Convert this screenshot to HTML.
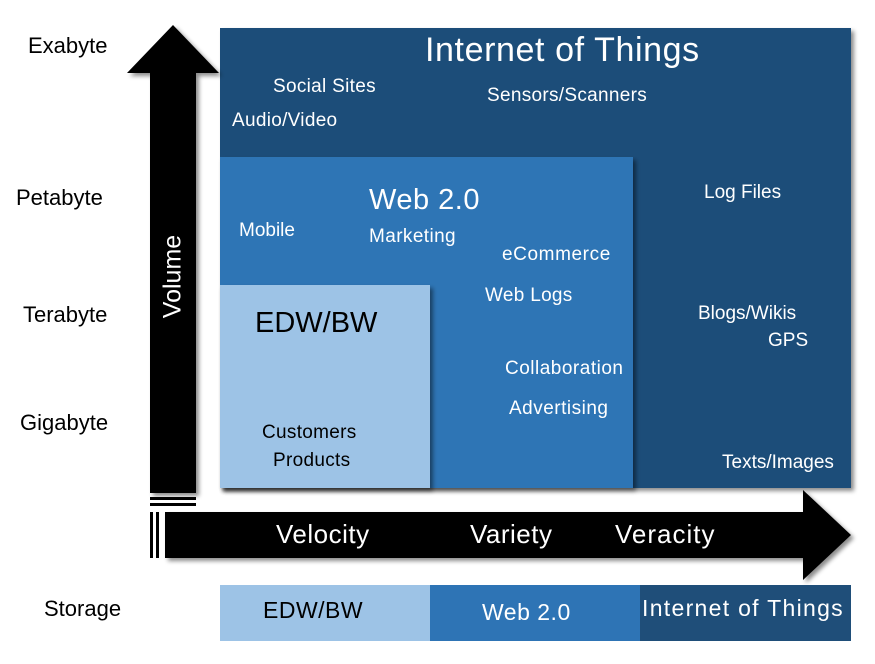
<!DOCTYPE html>
<html><head><style>
body{margin:0;width:875px;height:664px;background:#fff;position:relative;overflow:hidden;font-family:"Liberation Sans",sans-serif;}
.a{position:absolute;white-space:nowrap;}
.w{color:#fff;}
</style></head><body>
<svg width="875" height="664" style="position:absolute;left:0;top:0">
<defs><filter id="s" x="-10%" y="-10%" width="130%" height="130%"><feDropShadow dx="3" dy="3" stdDeviation="2" flood-color="#000" flood-opacity="0.45"/></filter></defs>
<rect x="220" y="28" width="631" height="460" fill="#1f4e79" filter="url(#s)"/>
<rect x="220" y="157" width="413" height="331" fill="#2e74b5" filter="url(#s)"/>
<rect x="220" y="285" width="210" height="203" fill="#9dc3e6" filter="url(#s)"/>
<polygon points="173,25 219,73 196,73 196,493 150,493 150,73 127,73" fill="#000" filter="url(#s)"/>
<rect x="150" y="497" width="46" height="3" fill="#000"/>
<rect x="150" y="503" width="46" height="3" fill="#000"/>
<polygon points="165,512 803,512 803,490 851,535 803,580 803,558 165,558" fill="#000" filter="url(#s)"/>
<rect x="150" y="512" width="3" height="46" fill="#000"/>
<rect x="156" y="512" width="3" height="46" fill="#000"/>
<rect x="220" y="585" width="210" height="56" fill="#9dc3e6"/>
<rect x="430" y="585" width="210" height="56" fill="#2e74b5"/>
<rect x="640" y="585" width="211" height="56" fill="#1f4e79"/>
</svg>
<div class="a" style="left:28px;top:33px;font-size:22px">Exabyte</div>
<div class="a" style="left:16px;top:185px;font-size:22px">Petabyte</div>
<div class="a" style="left:23px;top:302px;font-size:22px">Terabyte</div>
<div class="a" style="left:20px;top:410px;font-size:22px">Gigabyte</div>
<div class="a" style="left:44px;top:596px;font-size:22px">Storage</div>
<div class="a w" style="left:128px;top:262px;font-size:25px;transform:rotate(-90deg);width:90px;text-align:center">Volume</div>
<div class="a w" style="left:425px;top:31px;font-size:34px;letter-spacing:0.6px">Internet of Things</div>
<div class="a w" style="left:273px;top:76px;font-size:19px;letter-spacing:0.3px">Social Sites</div>
<div class="a w" style="left:232px;top:110px;font-size:19px;letter-spacing:0.3px">Audio/Video</div>
<div class="a w" style="left:487px;top:85px;font-size:19px;letter-spacing:0.3px">Sensors/Scanners</div>
<div class="a w" style="left:704px;top:182px;font-size:19px">Log Files</div>
<div class="a w" style="left:698px;top:303px;font-size:19px">Blogs/Wikis</div>
<div class="a w" style="left:768px;top:330px;font-size:19px">GPS</div>
<div class="a w" style="left:722px;top:452px;font-size:19px">Texts/Images</div>
<div class="a w" style="left:369px;top:184px;font-size:29px;letter-spacing:0.5px">Web 2.0</div>
<div class="a w" style="left:369px;top:226px;font-size:19px;letter-spacing:0.4px">Marketing</div>
<div class="a w" style="left:239px;top:220px;font-size:19px">Mobile</div>
<div class="a w" style="left:502px;top:244px;font-size:19px;letter-spacing:0.6px">eCommerce</div>
<div class="a w" style="left:485px;top:285px;font-size:19px;letter-spacing:0.3px">Web Logs</div>
<div class="a w" style="left:505px;top:358px;font-size:19px;letter-spacing:0.5px">Collaboration</div>
<div class="a w" style="left:509px;top:398px;font-size:19px;letter-spacing:0.5px">Advertising</div>
<div class="a" style="left:255px;top:307px;font-size:29px">EDW/BW</div>
<div class="a" style="left:262px;top:422px;font-size:19px;letter-spacing:0.3px">Customers</div>
<div class="a" style="left:273px;top:450px;font-size:19px;letter-spacing:0.3px">Products</div>
<div class="a w" style="left:276px;top:519px;font-size:26px;letter-spacing:0.5px">Velocity</div>
<div class="a w" style="left:470px;top:519px;font-size:26px;letter-spacing:0.5px">Variety</div>
<div class="a w" style="left:615px;top:519px;font-size:26px;letter-spacing:1px">Veracity</div>
<div class="a" style="left:263px;top:597px;font-size:23px;letter-spacing:0.5px">EDW/BW</div>
<div class="a w" style="left:482px;top:599px;font-size:23px;letter-spacing:0.5px">Web 2.0</div>
<div class="a w" style="left:642px;top:595px;font-size:23px;letter-spacing:1.3px">Internet of Things</div>
</body></html>
